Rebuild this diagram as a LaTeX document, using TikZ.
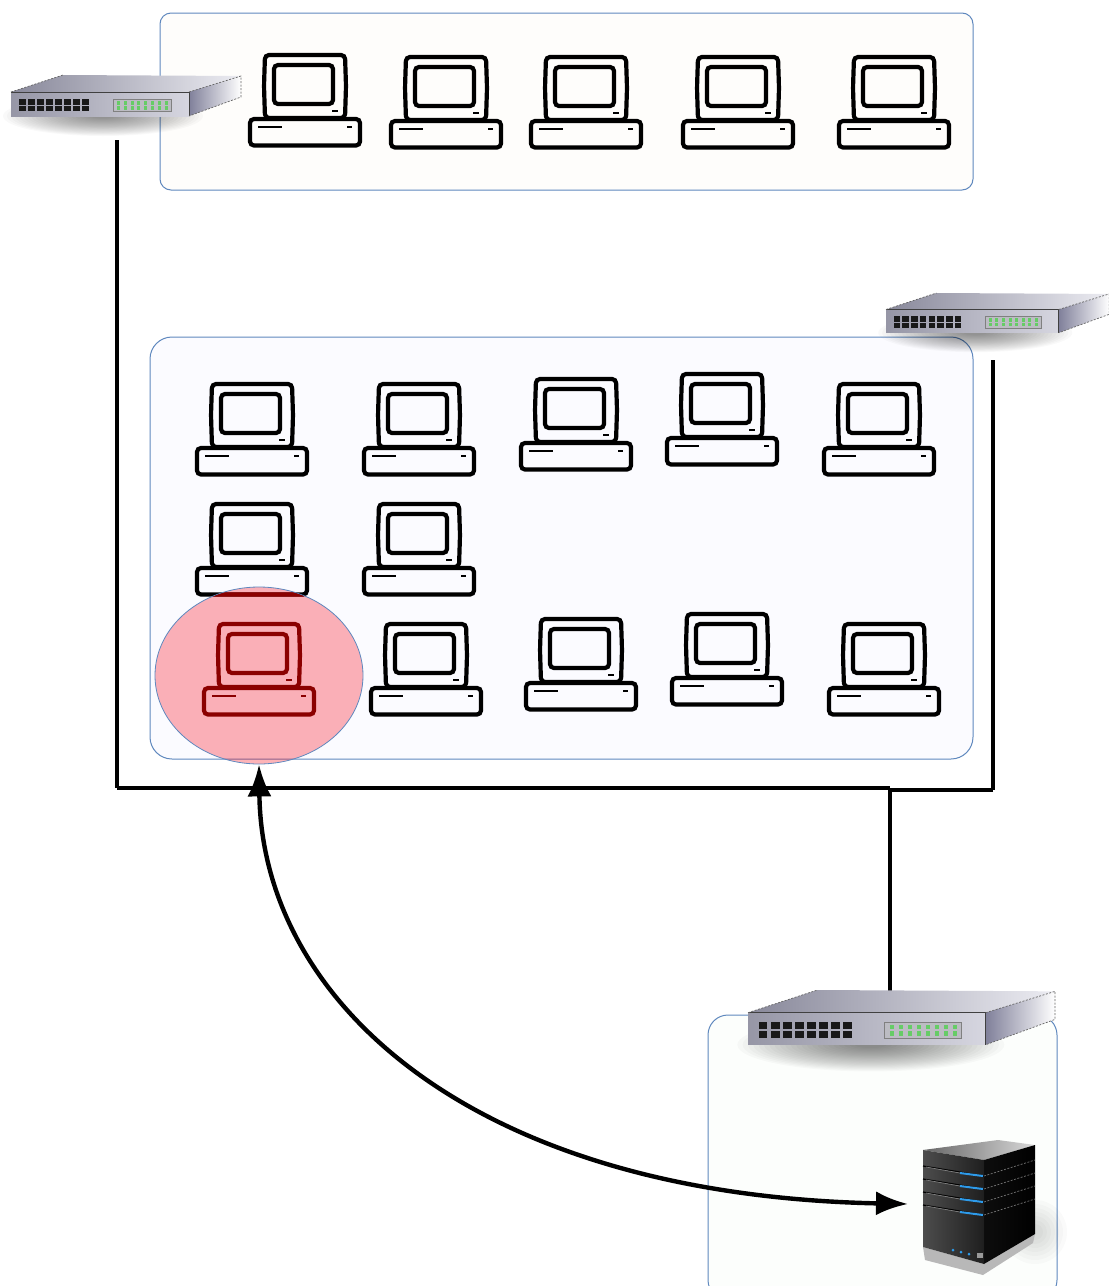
\documentclass[tikz,border=0pt]{standalone}
\usepackage{tikz}
\usetikzlibrary{arrows.meta,shapes.geometric}

\definecolor{panelline}{HTML}{5F88BE}
\definecolor{pcred}{HTML}{8B0000}
\definecolor{topfill}{HTML}{FEFDFB}
\definecolor{midfill}{HTML}{FBFBFF}
\definecolor{lowfill}{HTML}{FCFEFC}
\definecolor{swfrontl}{HTML}{9696A6}
\definecolor{swfrontr}{HTML}{D6D6E0}
\definecolor{swtopl}{HTML}{88889A}
\definecolor{swtopr}{HTML}{ECECF2}
\definecolor{swsidel}{HTML}{80809A}
\definecolor{swled}{HTML}{66CC66}
\definecolor{srvblue}{HTML}{2E9BEA}

\tikzset{
  panel/.style={draw=panelline, line width=1pt},
  wire/.style={draw=black, line width=4.6pt},
  pics/computer/.style={code={
    \begin{scope}[draw=#1, line width=4.2pt, rounded corners=4pt]
      \draw (17,2) -- (97,2) -- (98,33) -- (97,65) -- (17,65) -- (16,33) -- cycle;
      \draw (26,12) rectangle (85,51);
      \draw (2,66) rectangle (112,92.5);
    \end{scope}
    \draw[#1, line width=2.6pt] (10,74) -- (34,74) (99,74) -- (104,74) (84,58) -- (90,58);
  }},
  pics/switchbox/.style={code={
    \foreach \r in {12,16,...,100} {
      \fill[black, opacity=0.022] (92,41) ellipse [x radius=\r, y radius=\r/5];
    }
    \shade[left color=swtopl, right color=swtopr] (0,17) -- (52,0) -- (230,1) -- (178,17) -- cycle;
    \shade[left color=swsidel, right color=white] (178,17) -- (230,1) -- (230,22) -- (178,41) -- cycle;
    \shade[left color=swfrontl, right color=swfrontr] (0,17) rectangle (178,41);
    \draw[black!75, line width=0.7pt] (0,17) -- (178,17) -- (178,41);
    \draw[black!60, line width=0.7pt, dash pattern=on 2pt off 1.5pt] (0,17) -- (52,0) (178,17) -- (230,1) -- (230,22) -- (178,41);
    \fill[swfrontr!70!gray] (102,24) rectangle (160,36);
    \foreach \i in {0,...,7} {
      \fill[black!90] (8+\i*9,24) rectangle ++(6.6,5.5);
      \fill[black!90] (8+\i*9,30.5) rectangle ++(6.6,5.5);
      \fill[swled] (106+\i*6.8,26) rectangle ++(3,3.5);
      \fill[swled] (106+\i*6.8,31) rectangle ++(3,3.5);
    }
    \draw[gray, line width=0.5pt] (102,24) rectangle (160,36);
  }},
  pics/serverbox/.style={code={
    \foreach \r in {8,12,...,32} {
      \fill[black, opacity=0.02] (112,92) ellipse [x radius=\r, y radius=\r];
    }
    \fill[black!28] (0,107) -- (61,124) -- (112,94) -- (110,103) -- (60,135) -- (2,120) -- cycle;
    \shade[left color=black!60, right color=black!15] (0,10) -- (75,0) -- (112,5) -- (61,20) -- cycle;
    \shade[left color=black!70, right color=black!88] (0,10) -- (61,20) -- (61,124) -- (0,107) -- cycle;
    \shade[left color=black!95, right color=black] (61,20) -- (112,5) -- (112,94) -- (61,124) -- cycle;
    \foreach \s in {0,1,2,3} {
      \draw[black, line width=1.2pt] (0,{26+\s*13}) -- (61,{36+\s*13});
      \draw[black!50, line width=0.7pt] (3,{27+\s*13}) -- (37,{33+\s*13});
      \draw[black!55, line width=0.7pt, dash pattern=on 2pt off 1.5pt] (61,{36+\s*13}) -- (112,{20+\s*13});
      \draw[srvblue, line width=2pt] (37,{33+\s*13}) -- (60,{36+\s*13});
    }
    \foreach \s in {0,1,2} {
      \fill[srvblue] (30+\s*8,110+\s*2) circle (1.5);
    }
    \fill[black!40] (54,113) rectangle ++(6,5);
  }}
}

\begin{document}
\begin{tikzpicture}[x=1pt, y=-1pt]
  \useasboundingbox (0,0) rectangle (1109,1286);
  \clip (0,0) rectangle (1109,1286);

  \node[panel, fill=topfill, rounded corners=11pt, inner sep=0pt, minimum width=813pt, minimum height=177pt] (toppanel) at (566.5,101.5) {};
  \node[panel, fill=midfill, rounded corners=22pt, inner sep=0pt, minimum width=823pt, minimum height=422pt] (midpanel) at (561.5,548) {};
  \node[panel, fill=lowfill, rounded corners=20pt, inner sep=0pt, minimum width=349pt, minimum height=285pt] (lowpanel) at (882.5,1157.5) {};

  \foreach \n/\x/\y in {a/248/53, b/389/55, c/529/55, d/681/55, e/837/55,
                        f/195/382, g/362/382, h/519/377, i/665/372, j/822/382,
                        k/195/502, l/362/502,
                        m/369/622, n/524/617, o/670/612, p/827/622} {
    \pic (pc\n) at (\x,\y) {computer=black};
  }

  \node[ellipse, draw=panelline, line width=0.8pt, fill={rgb,255:red,248;green,2;blue,18}, fill opacity=0.3, inner sep=0pt, minimum width=208pt, minimum height=177pt] (hostcircle) at (259,675.5) {};
  \begin{scope}
    \clip (259,675.5) ellipse [x radius=103.5, y radius=88];
    \pic (pcred) at (195,502) {computer=pcred};
    \pic (pcq) at (202,622) {computer=pcred};
  \end{scope}

  \coordinate (lefttop) at (117,140);
  \coordinate (leftbottom) at (117,788);
  \coordinate (righttop) at (993,360);
  \coordinate (rightbottom) at (993,790);
  \coordinate (joint) at (890,788);
  \coordinate (jointlow) at (890,790);
  \coordinate (jointup) at (890,992);

  \foreach \i/\j in {lefttop/leftbottom, leftbottom/joint, righttop/rightbottom, rightbottom/jointlow, joint/jointup} {
    \draw[wire] (\i) -- (\j);
  }

  \pic (switcha) at (11,75) {switchbox};
  \pic[scale=0.97] (switchb) at (886,293) {switchbox};
  \pic[scale=1.335] (switchc) at (748,990) {switchbox};
  \pic (server) at (923,1140) {serverbox};

  \coordinate (serverport) at (908,1204);
  \draw[line width=4.4pt, {Latex[length=32pt,width=24pt]}-{Latex[length=32pt,width=24pt]}] (hostcircle.south) .. controls (262,1000) and (470,1195) .. (serverport);
\end{tikzpicture}
\end{document}
